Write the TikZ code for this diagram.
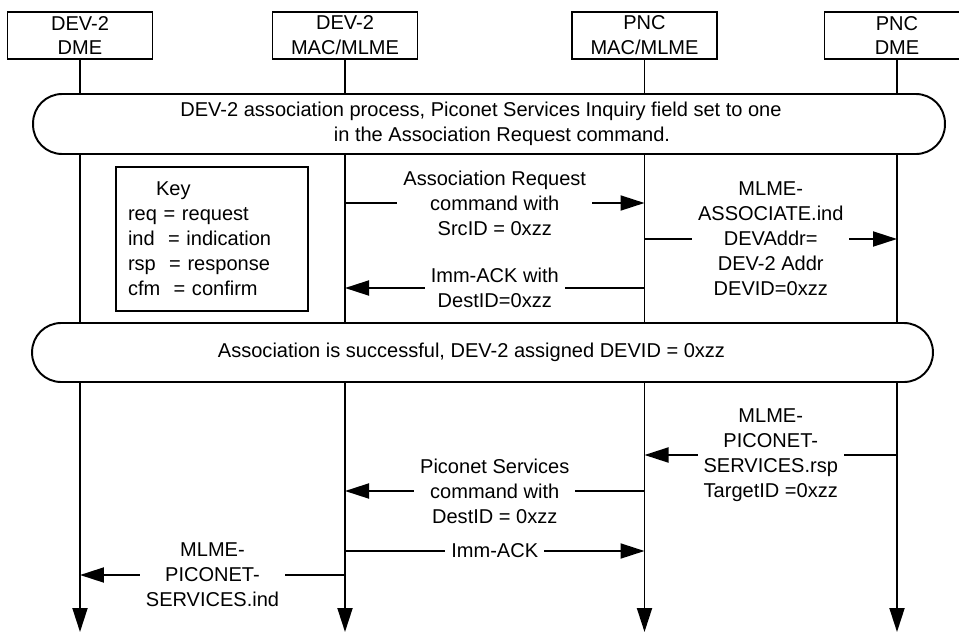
\documentclass[tikz,border=0pt]{standalone}
\usepackage{fontspec}
\setmainfont{Liberation Sans}
\usetikzlibrary{arrows.meta}

\begin{document}
\begin{tikzpicture}[x=0.02cm,y=-0.02cm,line width=1.1pt,>={Triangle[length=0.48cm,width=0.3cm]},font=\fontsize{11.4}{14.2}\selectfont,
head/.style = {draw, fill = white, align = center, minimum width = 2.9cm, minimum height = 0.94cm, inner sep = 0pt},
band/.style = {draw, fill = white, align = center, rounded corners = 0.58cm, inner sep = 0pt},
lbl/.style = {fill = white, align = center, inner xsep = 0.12cm, inner ysep = 0.02cm},]
\useasboundingbox (0,0) rectangle (959,632);
\node (D1) at (80,35.5)[head] {DEV-2\\DME};
\node (D2) at (345,35.5)[head] {DEV-2\\MAC/MLME};
\node (P1) at (644.5,35.5)[head] {PNC\\MAC/MLME};
\node (P2) at (897,35.5)[head] {PNC\\DME};
\coordinate (E) at (0,632);
\foreach \n in {D1,D2,P1,P2} \draw[->] (\n.south) -- (\n |- E);
\node (B1) at (489,124)[band,minimum width=18.24cm,minimum height=1.2cm] {DEV-2 association process, Piconet Services Inquiry field set to one\hspace*{0.32cm}\\\hspace*{0.52cm}in the Association Request command.};
\node (B2) at (482.5,352.5)[band,minimum width=18.02cm,minimum height=1.18cm] {Association is successful, DEV-2 assigned DEVID = 0xzz\hspace*{0.44cm}};
\node (K) at (212,239)[draw,align=left,text width=3.36cm,inner xsep=0.24cm,minimum height=2.88cm] {\hspace*{0.56cm}Key\\req = request\\ind~ = indication\\rsp~ = response\\cfm~ = confirm};
\draw[->] (D2 |- 0,203) -- node[lbl] {Association Request\\command with\\SrcID = 0xzz} (P1 |- 0,203);
\draw[->] (P1 |- 0,288) -- node[lbl] {Imm-ACK with\\DestID=0xzz} (D2 |- 0,288);
\draw[->] (P1 |- 0,239) -- node[lbl] {MLME-\\ASSOCIATE.ind\\DEVAddr=\\DEV-2 Addr\\DEVID=0xzz} (P2 |- 0,239);
\draw[->] (P2 |- 0,455) -- node[lbl] {MLME-\\PICONET-\\SERVICES.rsp\\TargetID =0xzz} (P1 |- 0,455);
\draw[->] (P1 |- 0,491) -- node[lbl] {Piconet Services\\command with\\DestID = 0xzz} (D2 |- 0,491);
\draw[->] (D2 |- 0,551) -- node[lbl] {Imm-ACK} (P1 |- 0,551);
\draw[->] (D2 |- 0,575) -- node[lbl] {MLME-\\PICONET-\\SERVICES.ind} (D1 |- 0,575);
\end{tikzpicture}
\end{document}
